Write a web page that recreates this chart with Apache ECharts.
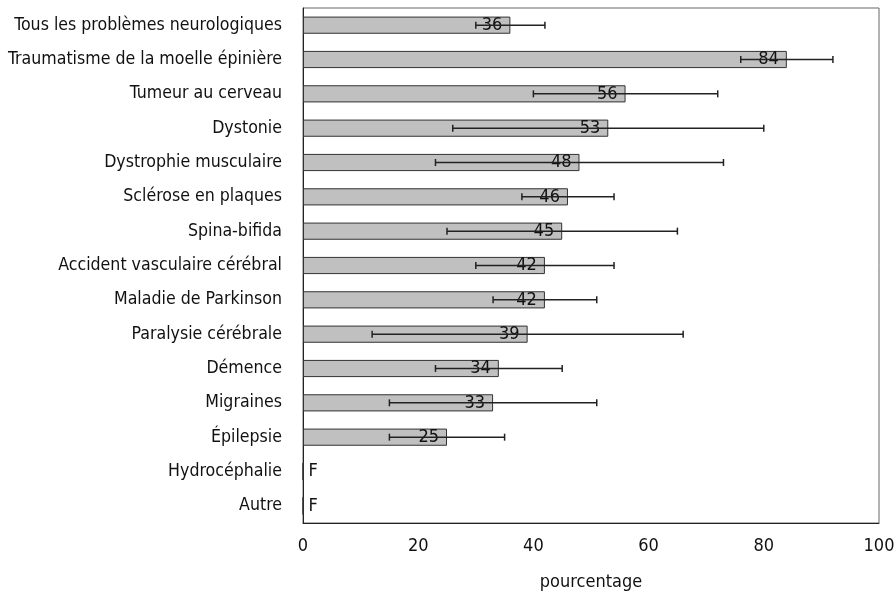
<!DOCTYPE html>
<html lang="fr" style="height: 100%">
<head>
  <meta charset="utf-8">
</head>
<body style="height: 100%; margin: 0; background: #fff">
  <div id="container" style="height: 100%"></div>

  <script type="text/javascript" src="https://cdn.jsdelivr.net/npm/echarts@6/dist/echarts.min.js"></script>
  <script type="text/javascript">
    // categories, top to bottom
    var categories = [
      'Tous les problèmes neurologiques',
      'Traumatisme de la moelle épinière',
      'Tumeur au cerveau',
      'Dystonie',
      'Dystrophie musculaire',
      'Sclérose en plaques',
      'Spina-bifida',
      'Accident vasculaire cérébral',
      'Maladie de Parkinson',
      'Paralysie cérébrale',
      'Démence',
      'Migraines',
      'Épilepsie',
      'Hydrocéphalie',
      'Autre'
    ];
    // null = F (too unreliable to publish)
    var values = [36, 84, 56, 53, 48, 46, 45, 42, 42, 39, 34, 33, 25, null, null];
    var lowCI  = [30, 76, 40, 26, 23, 38, 25, 30, 33, 12, 23, 15, 15, null, null];
    var highCI = [42, 92, 72, 80, 73, 54, 65, 54, 51, 66, 45, 51, 35, null, null];
    var xTicks = [0, 20, 40, 60, 80, 100];

    var font = '"Liberation Sans Narrow", "DejaVu Sans Condensed", sans-serif';

    var dom = document.getElementById('container');
    var myChart = echarts.init(dom, null, { renderer: 'canvas' });

    var barData = values.map(function (v) {
      return v === null ? { value: 0, label: { formatter: 'F', position: 'right', distance: 5 } } : v;
    });

    var errData = [];
    for (var i = 0; i < categories.length; i++) {
      if (lowCI[i] !== null) errData.push([i, lowCI[i], highCI[i]]);
    }

    var option = {
      animation: false,
      grid: {
        left: 303, right: 17, top: 8, bottom: 69,
        outerBoundsMode: 'none',
        containLabel: false,
        show: true, borderColor: '#666', borderWidth: 1
      },
      xAxis: {
        type: 'value',
        min: 0, max: 100, interval: 20,
        name: 'pourcentage',
        nameLocation: 'middle',
        nameGap: 50,
        nameTextStyle: { fontFamily: font, fontSize: 18, color: '#111' },
        axisLine: { show: true, lineStyle: { color: '#222' } },
        axisTick: { show: false },
        splitLine: { show: false },
        axisLabel: {
          fontFamily: font, fontSize: 18, color: '#111', margin: 14,
          formatter: function (v) { return xTicks.indexOf(v) >= 0 ? v : ''; }
        }
      },
      yAxis: {
        type: 'category',
        inverse: true,
        data: categories,
        axisLine: { show: true, lineStyle: { color: '#222' } },
        axisTick: { show: false },
        axisLabel: { fontFamily: font, fontSize: 17.6, color: '#111', margin: 21 }
      },
      series: [
        {
          type: 'bar',
          data: barData,
          barWidth: '50%',
          itemStyle: { color: '#c0c0c0', borderColor: '#333', borderWidth: 1 },
          label: {
            show: true,
            position: 'insideRight',
            distance: 8,
            fontFamily: font, fontSize: 18, color: '#111'
          },
          z: 2
        },
        {
          type: 'custom',
          data: errData,
          z: 3,
          renderItem: function (params, api) {
            var cat = api.value(0);
            var lo = api.coord([api.value(1), cat]);
            var hi = api.coord([api.value(2), cat]);
            var h = 3.5;
            var style = { stroke: '#222', lineWidth: 1.5 };
            return {
              type: 'group',
              children: [
                { type: 'line', shape: { x1: lo[0], y1: lo[1], x2: hi[0], y2: hi[1] }, style: style },
                { type: 'line', shape: { x1: lo[0], y1: lo[1] - h, x2: lo[0], y2: lo[1] + h }, style: style },
                { type: 'line', shape: { x1: hi[0], y1: hi[1] - h, x2: hi[0], y2: hi[1] + h }, style: style }
              ]
            };
          },
          encode: { x: [1, 2], y: 0 }
        }
      ]
    };

    myChart.setOption(option);
    window.addEventListener('resize', myChart.resize);
  </script>
</body>
</html>
